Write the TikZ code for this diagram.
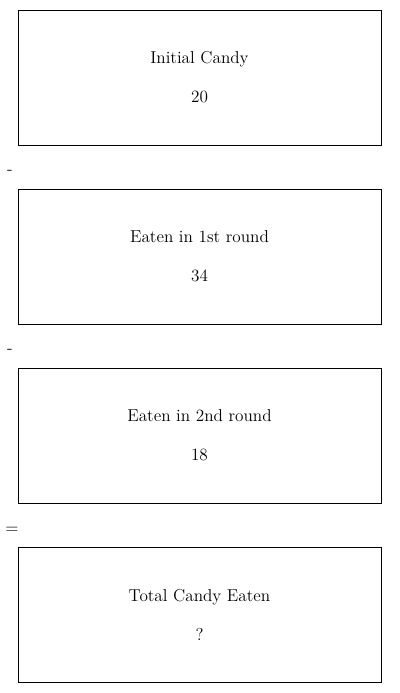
\documentclass[tikz,border=0pt]{standalone}
\usetikzlibrary{positioning}
\begin{document}
\begin{tikzpicture}[x=0.75pt,y=-0.75pt]
\tikzset{box/.style={draw, minimum width=272.25pt, minimum height=101.25pt, align=center, font=\fontsize{12.9}{15}\selectfont, inner sep=0pt},
  op/.style={font=\fontsize{12.9}{15}\selectfont}}
\useasboundingbox (0,0) rectangle (400,693);
\node[box] (initial) at (199.5,77.5) {Initial Candy\\[14.25pt]20};
\node[box, below=32.6pt of initial] (first) {Eaten in 1st round\\[14.25pt]34};
\node[box, below=32.6pt of first] (second) {Eaten in 2nd round\\[14.25pt]18};
\node[box, below=32.6pt of second] (total) {Total Candy Eaten\\[14.25pt]?};
\node[op] (minusa) at (10,172) {-};
\node[op] (minusb) at (10,351) {-};
\node[op] (equals) at (12,530) {=};
\end{tikzpicture}
\end{document}
